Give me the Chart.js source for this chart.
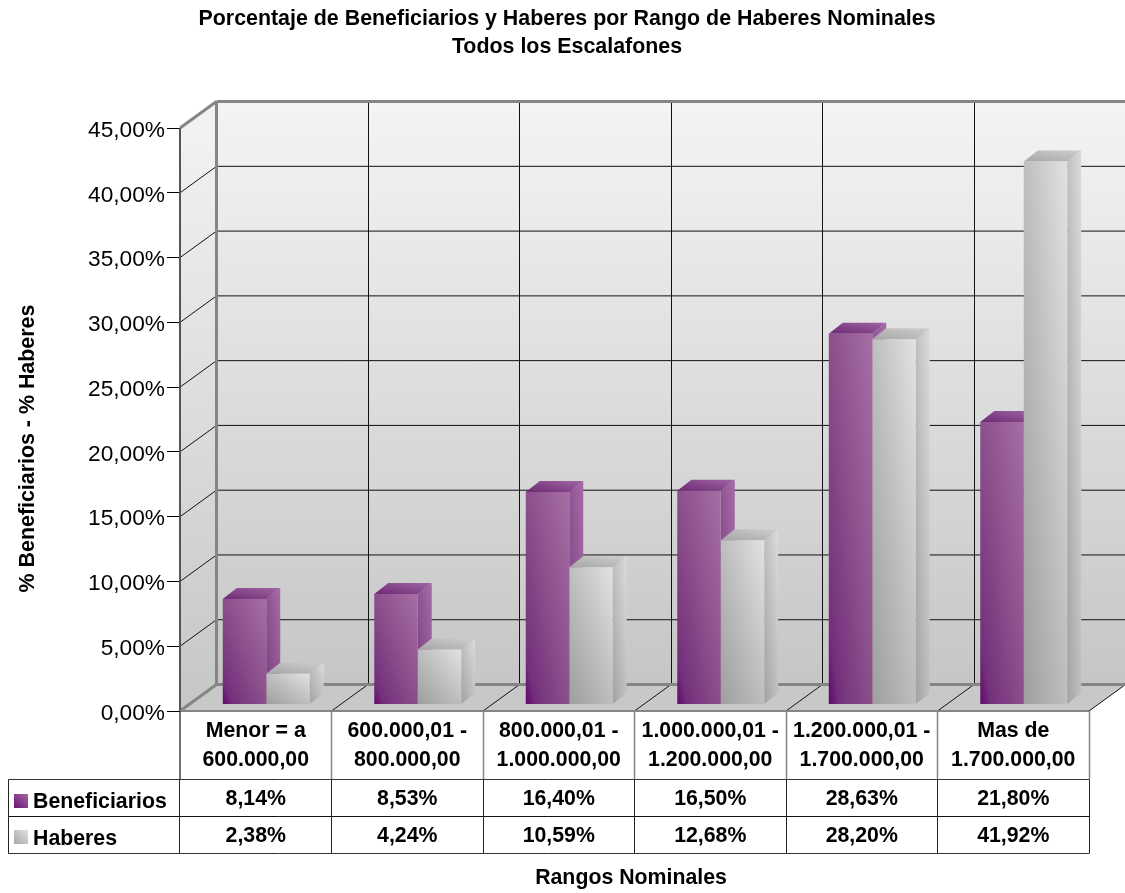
<!DOCTYPE html>
<html>
<head>
<meta charset="utf-8">
<title>Porcentaje de Beneficiarios y Haberes</title>
<script src="https://cdn.jsdelivr.net/npm/chart.js@4"></script>
<style>
  html, body { margin: 0; padding: 0; background: #fff; }
  #wrap { width: 1125px; height: 893px; }
</style>
</head>
<body>
<div id="wrap"><canvas id="chart" width="1125" height="893"></canvas></div>
<script>
const categories = [
  ["Menor = a", "600.000,00"],
  ["600.000,01 -", "800.000,00"],
  ["800.000,01 -", "1.000.000,00"],
  ["1.000.000,01 -", "1.200.000,00"],
  ["1.200.000,01 -", "1.700.000,00"],
  ["Mas de", "1.700.000,00"]
]
const beneficiarios = [8.14, 8.53, 16.40, 16.50, 28.63, 21.80]
const haberes = [2.38, 4.24, 10.59, 12.68, 28.20, 41.92]

const FONT = "'Liberation Sans', Arial, sans-serif"
const BOLD_SIZE = 21.3
const WALL = { dx: 36.5, dy: -26.5 }   // depth of the box
const SHIFT = { x: 10.5, y: -6.5 }     // bars sit a little inside the box
const BAR = { dx: 14, dy: -11 }        // depth of one bar
const ROW_Y = [779.5, 816.5, 853.5]
const LEGEND_LEFT = 8.5
const GREY = "#858585"

const fmt = v => v.toFixed(2).replace(".", ",") + "%"
const snap = v => Math.floor(v) + 0.5

// colour stops per face, dark corner to light corner
const FACES = [
  {
    front: [[0, "#5f0869"], [0.12, "#73307b"], [0.5, "#8b4f8c"], [1, "#a76ea5"]],
    side: [[0, "#7a3d80"], [1, "#a46ca6"]],
    top: [[0, "#6c2a73"], [1, "#a066a4"]],
    swatch: [[0, "#6a1472"], [1, "#a468a4"]]
  },
  {
    front: [[0, "#9e9e9e"], [0.5, "#bebebe"], [1, "#e2e2e2"]],
    side: [[0, "#a2a2a2"], [1, "#dcdcdc"]],
    top: [[0, "#a6a6a6"], [1, "#cecece"]],
    swatch: [[0, "#a6a6a6"], [1, "#e2e2e2"]]
  }
]

// corner to corner gradient whose colour bands follow the other diagonal of the box
function boxGradient(ctx, l, b, r, t, stops) {
  const w = r - l, h = b - t
  if (![l, b, w, h].every(Number.isFinite) || w <= 0 || h <= 0) return stops[0][1]  // scales not sized yet
  const k = 2 * w * h / (w * w + h * h)
  const g = ctx.createLinearGradient(l, b, l + k * h, b - k * w)
  stops.forEach(s => g.addColorStop(s[0], s[1]))
  return g
}

function frontFill(c) {
  if (c.dataIndex === undefined || !c.parsed) return "#999"
  const x = c.chart.scales.x
  const y = c.chart.scales.y
  const cat = x.getPixelForValue(1) - x.getPixelForValue(0)
  const w = cat * 0.574 / 2
  const left = x.getPixelForValue(c.dataIndex) - w + c.datasetIndex * w
  return boxGradient(c.chart.ctx, left, y.getPixelForValue(0), left + w, y.getPixelForValue(c.parsed.y), FACES[c.datasetIndex].front)
}

function poly(ctx, pts, fill) {
  ctx.beginPath()
  pts.forEach((p, i) => i ? ctx.lineTo(p[0], p[1]) : ctx.moveTo(p[0], p[1]))
  ctx.closePath()
  ctx.fillStyle = fill
  ctx.fill()
}

function line(ctx, x0, y0, x1, y1, color, width) {
  ctx.beginPath()
  ctx.moveTo(x0, y0)
  ctx.lineTo(x1, y1)
  ctx.strokeStyle = color
  ctx.lineWidth = width
  ctx.stroke()
}

const box3d = {
  id: "box3d",
  afterLayout(chart) {
    // title and axis titles are not centred on the plot in the original
    chart.titleBlock.left += 45
    chart.scales.y.top += 58
    chart.scales.x.left -= 7
    // value labels sit slightly below their tick marks
    const y = chart.scales.y
    const drawLabels = y.drawLabels
    y.drawLabels = function (area) {
      chart.ctx.save()
      chart.ctx.translate(0, 2.5)
      drawLabels.call(y, area)
      chart.ctx.restore()
    }
  },
  beforeDatasetsDraw(chart) {
    const ctx = chart.ctx
    const { left, right, top, bottom } = chart.chartArea
    const x = chart.scales.x
    const y = chart.scales.y
    const cat = x.getPixelForValue(1) - x.getPixelForValue(0)
    const edges = categories.map((_, i) => x.getPixelForValue(i) + cat / 2)
    const bx = left + WALL.dx, by = bottom + WALL.dy, tx = right + WALL.dx, ty = top + WALL.dy

    ctx.save()
    const wall = ctx.createLinearGradient(0, ty, 0, by)
    wall.addColorStop(0, "#f4f4f4")
    wall.addColorStop(1, "#c6c6c6")
    const side = ctx.createLinearGradient(0, top, 0, bottom)
    side.addColorStop(0, "#f2f2f2")
    side.addColorStop(1, "#c6c6c6")
    poly(ctx, [[bx, ty], [tx, ty], [tx, by], [bx, by]], wall)
    poly(ctx, [[left, top], [bx, ty], [bx, by], [left, bottom]], side)
    poly(ctx, [[left, bottom], [right, bottom], [tx, by], [bx, by]], "#c8c8c8")

    y.ticks.forEach(t => {
      const py = y.getPixelForValue(t.value)
      if (t.value > 0 && t.value < 45) {
        line(ctx, bx, py + WALL.dy, tx, py + WALL.dy, "#111", 1)
        line(ctx, left, py, bx, py + WALL.dy, "#111", 1)
      }
    })
    edges.forEach(ex => {
      if (ex < right - 1) line(ctx, snap(ex + WALL.dx), ty, snap(ex + WALL.dx), by, "#111", 1)
      line(ctx, ex, bottom, ex + WALL.dx, by, "#111", 1)
    })
    line(ctx, bx, ty, tx, ty, GREY, 3)
    line(ctx, bx, by, tx, by, GREY, 3)
    line(ctx, bx, ty, bx, by, GREY, 3)
    line(ctx, left, top, bx, ty, GREY, 3)
    line(ctx, left, bottom, bx, by, GREY, 3)
    line(ctx, left, top, left, bottom, "#555", 2)

    // table
    line(ctx, left, bottom, right, bottom, GREY, 2)
    line(ctx, left, bottom, left, ROW_Y[0], "#444", 1.5)
    edges.forEach(ex => line(ctx, snap(ex), bottom, snap(ex), ROW_Y[0], GREY, 1.5))
    line(ctx, LEGEND_LEFT, ROW_Y[0], right, ROW_Y[0], "#333", 1)
    line(ctx, LEGEND_LEFT, ROW_Y[1], right, ROW_Y[1], "#111", 1)
    line(ctx, LEGEND_LEFT, ROW_Y[2], right, ROW_Y[2], "#333", 1)
    line(ctx, LEGEND_LEFT, ROW_Y[0], LEGEND_LEFT, ROW_Y[2], "#222", 1)
    line(ctx, snap(left - 1), ROW_Y[0], snap(left - 1), ROW_Y[2], "#222", 1)
    edges.forEach(ex => line(ctx, snap(ex), ROW_Y[0], snap(ex), ROW_Y[2], "#222", 1))

    ctx.font = "bold " + BOLD_SIZE + "px " + FONT
    ctx.fillStyle = "#000"
    ctx.textBaseline = "middle"
    chart.data.datasets.forEach((ds, r) => {
      const rowMid = (ROW_Y[r] + ROW_Y[r + 1]) / 2
      ctx.textAlign = "center"
      ds.data.forEach((v, i) => ctx.fillText(fmt(v), x.getPixelForValue(i), rowMid + 1))
      ctx.textAlign = "left"
      const sy = Math.round(rowMid) - 4 - (r ? 1 : 0)
      ctx.fillStyle = boxGradient(ctx, 14, sy + 14, 28, sy, FACES[r].swatch)
      ctx.fillRect(14, sy, 14, 14)
      ctx.fillStyle = "#000"
      ctx.fillText(ds.label, 33, rowMid + 4)
    })
    ctx.restore()

    // bars are shifted into the box, side and top faces go under the library's fronts
    ctx.save()
    ctx.translate(SHIFT.x, SHIFT.y)
    chart.data.datasets.forEach((ds, i) => {
      chart.getDatasetMeta(i).data.forEach(el => {
        const l = el.x - el.width / 2, r = el.x + el.width / 2
        const f = FACES[i]
        poly(ctx, [[r, el.y], [r + BAR.dx, el.y + BAR.dy], [r + BAR.dx, el.base + BAR.dy], [r, el.base]],
          boxGradient(ctx, r, el.base, r + BAR.dx, el.y + BAR.dy, f.side))
        poly(ctx, [[l, el.y], [l + BAR.dx, el.y + BAR.dy], [r + BAR.dx, el.y + BAR.dy], [r, el.y]],
          boxGradient(ctx, l, el.y, r + BAR.dx, el.y + BAR.dy, f.top))
      })
    })
  },
  afterDatasetsDraw(chart) {
    chart.ctx.restore()
  }
}

new Chart(document.getElementById("chart"), {
  type: "bar",
  data: {
    labels: categories,
    datasets: [
      { label: "Beneficiarios", data: beneficiarios, backgroundColor: frontFill, clip: false },
      { label: "Haberes", data: haberes, backgroundColor: frontFill, clip: false }
    ]
  },
  options: {
    responsive: false,
    animation: false,
    layout: { padding: { right: 36, left: 0, top: 0, bottom: 0 } },
    categoryPercentage: 0.574,
    barPercentage: 1,
    plugins: {
      legend: { display: false },
      tooltip: { enabled: false },
      title: {
        display: true,
        text: ["Porcentaje de Beneficiarios y Haberes por Rango de Haberes Nominales", "Todos los Escalafones"],
        color: "#000",
        font: { family: FONT, size: 21.4, weight: "bold", lineHeight: 1.31 },
        padding: { top: 5, bottom: 67 }
      }
    },
    scales: {
      x: {
        afterFit: s => { s.height = 182 },
        grid: { display: false },
        border: { display: false },
        ticks: {
          color: "#000",
          maxRotation: 0,
          autoSkip: false,
          padding: -2,
          font: { family: FONT, size: BOLD_SIZE, weight: "bold", lineHeight: 1.36 }
        },
        title: {
          display: true,
          text: "Rangos Nominales",
          color: "#000",
          font: { family: FONT, size: BOLD_SIZE, weight: "bold" },
          padding: { top: 0, bottom: 2 }
        }
      },
      y: {
        min: 0,
        max: 45,
        afterFit: s => { s.width = 180 },
        grid: { drawOnChartArea: false, drawTicks: true, tickLength: 13, color: "#000", lineWidth: 1 },
        border: { display: false },
        ticks: {
          stepSize: 5,
          color: "#000",
          padding: 2,
          font: { family: FONT, size: 22.7 },
          callback: v => fmt(v)
        },
        title: {
          display: true,
          text: "% Beneficiarios - % Haberes",
          color: "#000",
          font: { family: FONT, size: 21.4, weight: "bold" },
          padding: { top: 15, bottom: 0 }
        }
      }
    }
  },
  plugins: [box3d]
})
</script>
</body>
</html>
